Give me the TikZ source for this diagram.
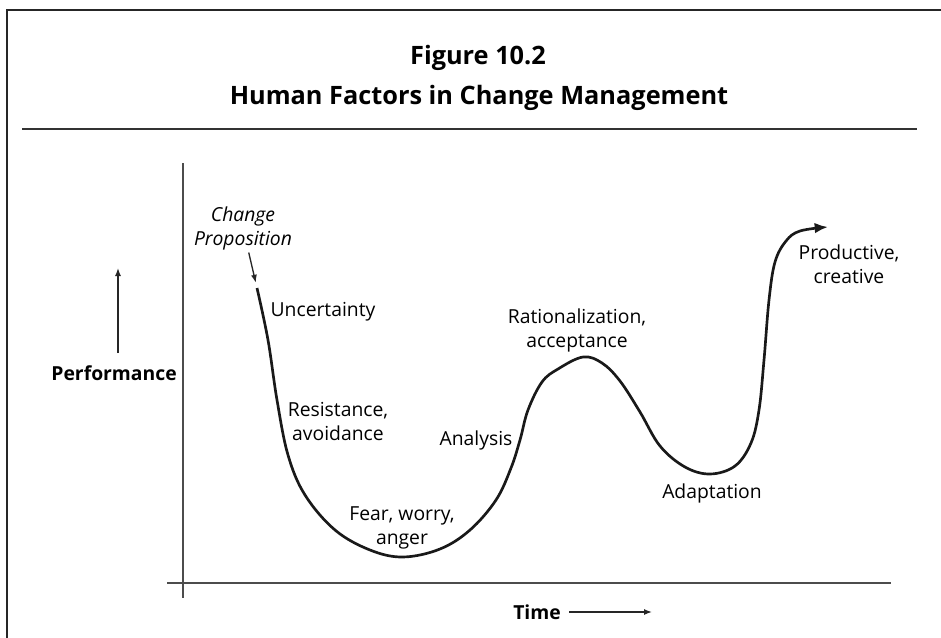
\documentclass[tikz,border=0pt]{standalone}
\usepackage{fontspec}
\setmainfont{Open Sans}
\usetikzlibrary{arrows.meta, positioning}
\tikzstyle{ttl}=[align=center, inner sep=0pt, font=\ttlsize]
\tikzstyle{lbl}=[align=center, inner sep=0pt, font=\lblsize]
\tikzstyle{lblit}=[align=center, inner sep=0pt, font=\lblsize\itshape]
\tikzstyle{lblbf}=[align=center, inner sep=0pt, font=\lblsize\bfseries]
\tikzstyle{frame}=[line width=1.5pt, draw=black!85]
\tikzstyle{rule}=[line width=1pt, draw=black!80]
\tikzstyle{axis}=[line width=1pt, draw=black!70]
\tikzstyle{perfline}=[line width=2pt, draw=black!90, -{Latex[length=10pt, width=8pt]}]
\tikzstyle{pointer}=[line width=1pt, draw=black!85, -{Latex[length=6pt, width=4.5pt]}]
\newcommand{\ttlsize}{\fontsize{19}{30}\selectfont\bfseries}
\newcommand{\lblsize}{\fontsize{14.5}{18}\selectfont}

\begin{document}
\begin{tikzpicture}[x=0.75pt, y=-0.75pt]
    \useasboundingbox (0,0) rectangle (941,638);
    \draw [frame] (941,10) -- (7,10) -- (7,638);

    \node [ttl, anchor=base] (fig) at (478,65) {Figure 10.2};
    \node [ttl, anchor=base] (title) at (479,105) {Human Factors in Change Management};
    \draw [rule] (22,129) -- (917,129);

    \draw [axis] (183,163) -- (183,598);
    \draw [axis] (167,583) -- (891,583);

    \node [lblbf, anchor=east] (perf) at (177,373) {Performance};
    \coordinate (perflo) at (118,353);
    \coordinate (perfhi) at (118,268);
    \draw [pointer] (perflo) -- (perfhi);

    \node [lblbf, anchor=west] (time) at (513,612) {Time};
    \coordinate (timeend) at (652,612);
    \draw [pointer, shorten <=6pt] (time) -- (timeend);

    \draw [perfline] plot [smooth, tension=0.6] coordinates {
        (257,288) (268,340) (277,400) (288,455) (305,495) (335,530) (370,550)
        (403,557) (440,549) (470,530) (496,500) (511,468) (520,440) (528,410)
        (542,382) (558,369) (583,357) (602,363) (620,381) (640,412) (660,446)
        (685,467) (710,474) (735,466) (751,443) (759,410) (764,360) (769,300)
        (775,262) (786,241) (800,231) (828,227)};
    \coordinate (start) at (257,288);

    \node [lblit] (prop) at (243,228) {Change\\Proposition};
    \draw [pointer, shorten <=2pt, shorten >=4pt] (prop) -- (start);

    \node [lbl] (uncert) at (323,312) {Uncertainty};
    \node [lbl] (resist) at (338,421) {Resistance,\\avoidance};
    \node [lbl] (fear) at (402,528) {Fear, worry,\\anger};
    \node [lbl] (anal) at (476,440) {Analysis};
    \node [lbl] (ration) at (577,330) {Rationalization,\\acceptance};
    \node [lbl] (adapt) at (712,493) {Adaptation};
    \node [lbl] (prod) at (849,264) {Productive,\\creative};
\end{tikzpicture}
\end{document}
